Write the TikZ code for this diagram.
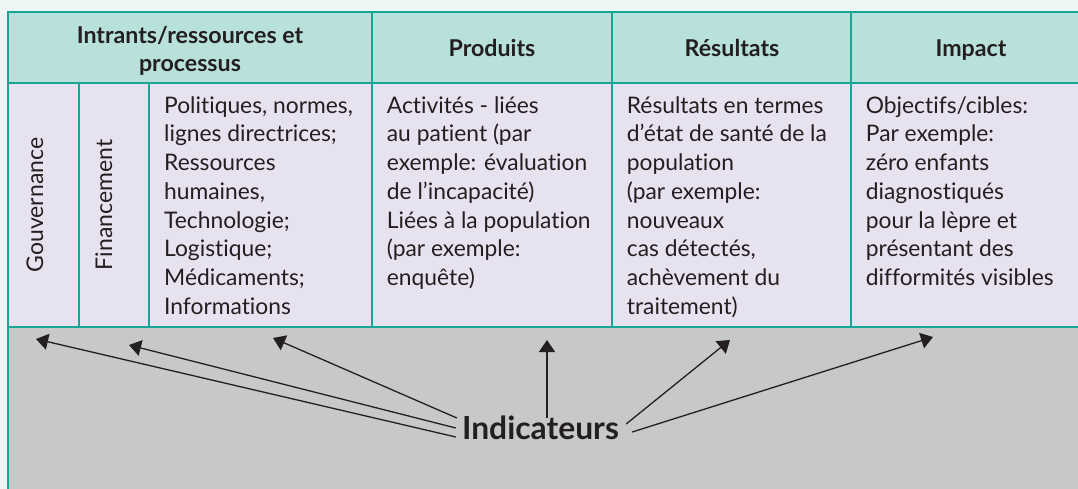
\documentclass[tikz,border=0pt]{standalone}
\usepackage{fontspec}
\setmainfont{Lato}[Ligatures=NoCommon]
\usetikzlibrary{arrows.meta}

\definecolor{margin}{RGB}{238,247,246}
\definecolor{headfill}{RGB}{185,225,219}
\definecolor{bodyfill}{RGB}{231,226,240}
\definecolor{grayfill}{RGB}{199,200,202}
\definecolor{rulecol}{RGB}{22,166,148}
\definecolor{ink}{RGB}{35,31,32}

% invisible strut fixing the distance from a node's top to its first baseline
\newcommand{\cellstrut}{\rule{0pt}{20pt}}

\begin{document}
\begin{tikzpicture}[x=1pt,y=-1pt,
  grid/.style={draw=rulecol, line width=1.4pt},
  headtext/.style={font=\fontsize{23.2}{28.4}\selectfont\bfseries, text=ink, align=center, inner sep=0pt},
  celltext/.style={font=\fontsize{22.8}{28.7}\selectfont, text=ink, align=left, anchor=north west, inner sep=0pt},
  sidetext/.style={font=\fontsize{23}{26}\selectfont, text=ink, rotate=90, anchor=base, inner sep=0pt},
  bigtext/.style={font=\fontsize{31.8}{34}\selectfont\bfseries, text=ink, anchor=base, inner sep=0pt},
  pointer/.style={draw=ink, line width=1.3pt, -{Triangle[length=12pt,width=16pt]}}
]
\useasboundingbox (0,0) rectangle (1078,489);

% background and the three bands of the table
\fill[margin] (0,0) rectangle (1078,489);
\fill[headfill] (8,12) rectangle (1078,83);
\fill[bodyfill] (8,83) rectangle (1078,327);
\fill[grayfill] (8,327) rectangle (1078,489);

% table rules
\draw[grid] (1078,12) -- (8,12) -- (8,489);
\draw[grid] (8,83) -- (1078,83);
\draw[grid] (8,327) -- (1078,327);
\draw[grid] (79,83) -- (79,327);
\draw[grid] (149,83) -- (149,327);
\draw[grid] (372,12) -- (372,327);
\draw[grid] (612,12) -- (612,327);
\draw[grid] (851,12) -- (851,327);

% header row
\node[headtext, anchor=north] (hin) at (190,23.3) {\cellstrut Intrants/ressources et\\processus};
\node[headtext, anchor=base] (hprod) at (492,56.7) {Produits};
\node[headtext, anchor=base] (hres) at (732,56.7) {Résultats};
\node[headtext, anchor=base] (himp) at (971,56.7) {Impact};

% body row
\node[sidetext] (gouv) at (43,205) {Gouvernance};
\node[sidetext] (fin) at (112,205) {Financement};
\node[celltext] (pol) at (164,93) {\cellstrut Politiques, normes,\\lignes directrices;\\Ressources\\humaines,\\Technologie;\\Logistique;\\Médicaments;\\Informations};
\node[celltext] (act) at (386.7,93) {\cellstrut Activités - liées\\au patient (par\\exemple: évaluation\\de l’incapacité)\\Liées à la population\\(par exemple:\\enquête)};
\node[celltext] (etat) at (626.7,93) {\cellstrut Résultats en termes\\d’état de santé de la\\population\\(par exemple:\\nouveaux\\cas détectés,\\achèvement du\\traitement)};
\node[celltext] (obj) at (865.7,93) {\cellstrut Objectifs/cibles:\\Par exemple:\\zéro enfants\\diagnostiqués\\pour la lèpre et\\présentant des\\difformités visibles};

% indicators and their pointers
\node[bigtext] (ind) at (540.5,439) {Indicateurs};
\coordinate (t1) at (36,339);
\coordinate (t2) at (129,345);
\coordinate (t3) at (273,338);
\coordinate (t4) at (547,340);
\coordinate (t5) at (730,340);
\coordinate (t6) at (933,337);
\draw[pointer] ([shift={(-6,-2)}]ind.base west) -- (t1);
\draw[pointer] ([shift={(-6,-11)}]ind.base west) -- (t2);
\draw[pointer] ([shift={(-5,-21)}]ind.base west) -- (t3);
\draw[pointer] ([shift={(6.5,-21)}]ind.base) -- (t4);
\draw[pointer] ([shift={(7,-15)}]ind.base east) -- (t5);
\draw[pointer] ([shift={(13,-7)}]ind.base east) -- (t6);
\end{tikzpicture}
\end{document}
